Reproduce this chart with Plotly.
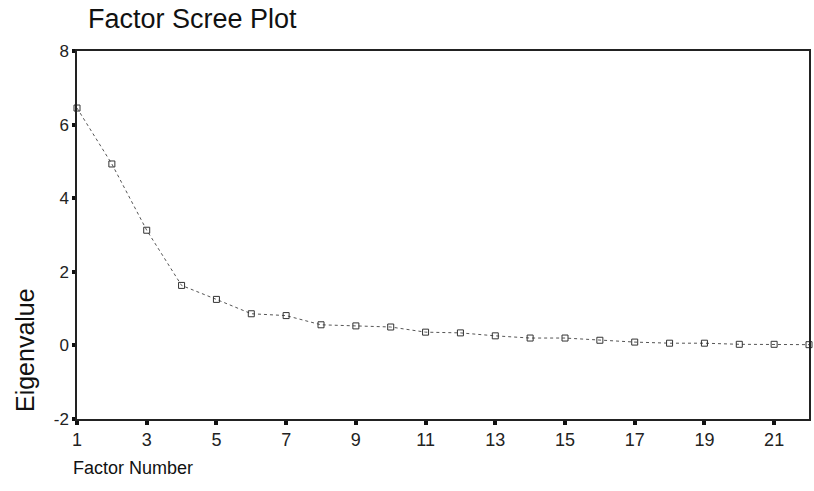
import plotly.graph_objects as go

factor_number = list(range(1, 23))
eigenvalues = [6.45, 4.93, 3.13, 1.63, 1.25, 0.86, 0.81, 0.56, 0.53, 0.50, 0.36,
               0.34, 0.26, 0.20, 0.20, 0.14, 0.09, 0.06, 0.06, 0.03, 0.03, 0.02]
x_ticks = [1, 3, 5, 7, 9, 11, 13, 15, 17, 19, 21]
y_ticks = [-2, 0, 2, 4, 6, 8]

fig = go.Figure()
fig.add_trace(go.Scatter(
    x=factor_number, y=eigenvalues, mode="lines+markers",
    line=dict(color="#555555", width=1, dash="dot"),
    marker=dict(symbol="square-open", size=6, color="#333333", line=dict(width=1)),
    cliponaxis=False, showlegend=False,
))

font_family = "Liberation Sans, Arial"
fig.update_layout(
    width=814, height=491,
    margin=dict(l=77, r=3, t=51, b=72),
    paper_bgcolor="white", plot_bgcolor="white",
    title=dict(text="Factor Scree Plot", x=88/814, xanchor="left", y=1 - 19/491, yanchor="middle",
               font=dict(family=font_family, size=27, color="#111")),
    xaxis=dict(range=[1, 22], tickvals=x_ticks, ticktext=[str(v) for v in x_ticks],
               showgrid=False, zeroline=False, showline=True, linecolor="#222", linewidth=1.5,
               mirror=True, ticks="outside", ticklen=4, tickwidth=4, tickcolor="#111",
               tickfont=dict(family=font_family, size=18, color="#222")),
    yaxis=dict(range=[-2, 8], tickvals=y_ticks, ticktext=[str(v) for v in y_ticks],
               showgrid=False, zeroline=False, showline=True, linecolor="#222", linewidth=1.5,
               mirror=True, ticks="outside", ticklen=3, tickwidth=4, tickcolor="#111",
               tickfont=dict(family=font_family, size=17, color="#222")),
    annotations=[
        dict(text="Eigenvalue", xref="paper", yref="paper", x=-0.071, y=0.1875,
             xanchor="center", yanchor="middle", textangle=-90, showarrow=False,
             font=dict(family=font_family, size=25, color="#111")),
        dict(text="Factor Number", xref="paper", yref="paper", x=-0.008, y=-0.133,
             xanchor="left", yanchor="middle", showarrow=False,
             font=dict(family=font_family, size=18, color="#111")),
    ],
)

fig.write_html("out.html", config={"displayModeBar": False},
               post_script="document.body.style.margin='0px';document.body.style.overflow='hidden';")
